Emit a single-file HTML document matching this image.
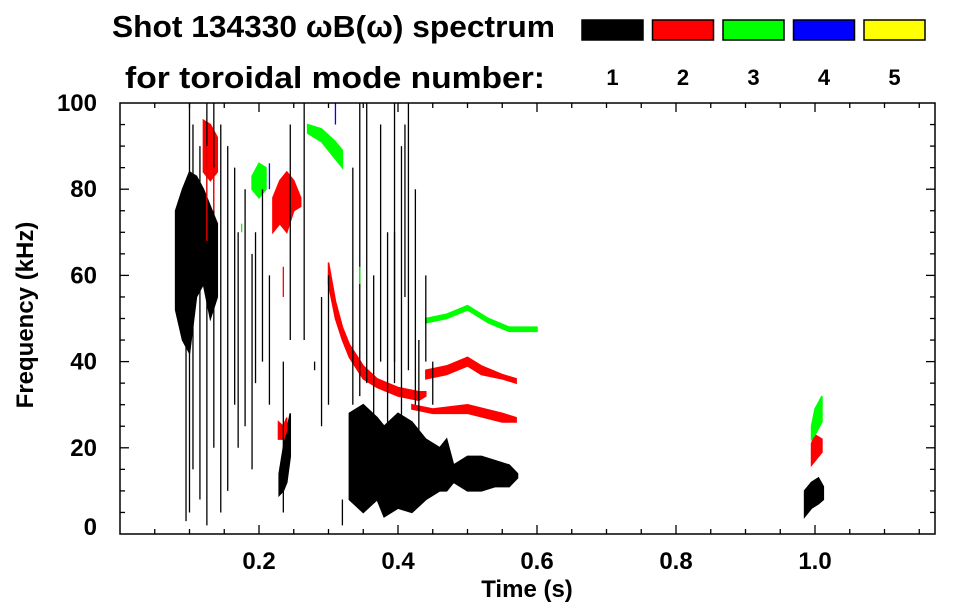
<!DOCTYPE html>
<html><head><meta charset="utf-8"><style>
body{margin:0;background:#fff}
svg{display:block;font-family:"Liberation Sans",Arial,sans-serif;font-weight:bold}
</style></head><body>
<svg id="chart" width="963" height="615" viewBox="0 0 963 615" xmlns="http://www.w3.org/2000/svg">
<text x="112" y="37" font-size="31" textLength="443" lengthAdjust="spacingAndGlyphs">Shot 134330 ωB(ω) spectrum</text>
<text x="125" y="88" font-size="31" textLength="420" lengthAdjust="spacingAndGlyphs">for toroidal mode number:</text>
<g id="legend"></g>
<g id="marks"></g>
<g id="axes"></g>
<text x="527" y="597" font-size="24" text-anchor="middle">Time (s)</text>
<text transform="translate(33,315) rotate(-90)" font-size="24" text-anchor="middle">Frequency (kHz)</text>
</svg>
<script>
const modeColors=['#000','#f00','#0f0','#00f','#ff0'];
const modeLabels=['1','2','3','4','5'];
const xTicks=[0.2,0.4,0.6,0.8,1.0];
const xTickLabels=['0.2','0.4','0.6','0.8','1.0'];
const yTicks=[0,20,40,60,80,100];
const yTickLabels=['0','20','40','60','80','100'];
const patchMode=[0,0,0,0,1,1,1,1,1,1,2,2,2,2,1];
const patchTimes=[
 [0.08,0.09,0.10,0.11,0.12,0.13,0.14],
 [0.229,0.235,0.24,0.245],
 [0.33,0.35,0.37,0.38,0.40,0.42,0.44,0.46,0.47,0.48,0.50,0.52,0.54,0.56,0.572],
 [0.985,0.995,1.005,1.012],
 [0.30,0.31,0.32,0.33,0.35,0.37,0.40,0.43,0.44],
 [0.44,0.47,0.50,0.52,0.55,0.57],
 [0.42,0.45,0.50,0.55,0.57],
 [0.22,0.23,0.24,0.25,0.26],
 [0.12,0.13,0.14],
 [0.995,1.0,1.01],
 [0.44,0.47,0.50,0.53,0.56,0.60],
 [0.27,0.29,0.31,0.32],
 [0.995,1.0,1.01],
 [0.19,0.20,0.21],
 [0.228,0.235,0.24]
];
const patchLow=[
 [52,45,42,55,58,50,55],[9,10,12,18],[8,5,8,4,6,5,8,10,10,12,10,10,11,11,13],[4,6,7,8],
 [58,50,45,41,36,34,32,31,32],[36,37,39,37,36,35],[29,28,28,26,26],[70,72,70,75,76],[84,82,84],[16,17,19],
 [49,50,52,49,47,47],[93,91,87,85],[22,23,26],[80,78,80],[22,22,24]
];
const patchHigh=[
 [75,80,84,83,80,76,72],[14,20,24,28],[28,30,27,25,28,26,22,20,22,16,18,18,17,16,14],[10,12,13,11],
 [63,54,48,44,39,36,34,33,33],[38,39,41,39,37,36],[30,29,30,28,27],[78,82,84,82,78],[96,95,92],[21,23,22],
 [50,51,53,50,48,48],[95,94,91,89],[25,29,32],[83,86,85],[26,25,27]
];
const streakMode=[0,0,0,0,0,0,0,0,0,0,0,0,0,0,0,0,0,0,0,0,0,0,0,0,0,0,0,0,0,0,0,0,0,0,1,1,2,3,3,0,0,0,1,2];
const streakTime=[0.095,0.10,0.105,0.115,0.125,0.135,0.145,0.155,0.165,0.17,0.18,0.19,0.195,0.205,0.215,0.235,0.245,0.265,0.29,0.30,0.32,0.335,0.345,0.355,0.365,0.375,0.385,0.395,0.405,0.415,0.425,0.43,0.44,0.45,0.125,0.135,0.175,0.215,0.31,0.28,0.395,0.41,0.235,0.345];
const streakLow=[3,5,15,8,2,20,5,10,30,20,25,15,35,40,30,5,45,45,25,30,2,30,32,35,25,40,10,35,20,38,30,15,40,30,68,75,70,80,95,38,40,55,55,58];
const streakHigh=[70,100,95,90,100,100,95,90,85,70,80,65,70,80,60,40,95,100,55,60,8,85,100,100,60,95,70,100,90,100,80,45,60,40,90,85,72,86,100,40,70,95,62,62];

const X0=120,PX=695,Y0=534,PY=4.31;
const xs=t=>X0+t*PX, ys=f=>Y0-f*PY;
const NS='http://www.w3.org/2000/svg';
function mk(tag,attrs,parent){const e=document.createElementNS(NS,tag);for(const k in attrs)e.setAttribute(k,attrs[k]);parent.appendChild(e);return e;}
const leg=document.getElementById('legend'),marks=document.getElementById('marks'),axes=document.getElementById('axes');
modeColors.forEach((c,i)=>{
 const r=mk('rect',{x:582+i*70.5,y:20,width:61,height:20,fill:c,stroke:'#000','stroke-width':1.5},leg);
 
 
 const t=mk('text',{x:612.5+i*70.5,y:85,'font-size':22,'text-anchor':'middle'},leg);t.textContent=modeLabels[i];
 
 
});
patchTimes.forEach((ts,i)=>{
 const pts=ts.map((t,j)=>xs(t)+','+ys(patchHigh[i][j])).concat(ts.map((t,j)=>xs(t)+','+ys(patchLow[i][j])).reverse());
 const p=mk('polygon',{points:pts.join(' '),fill:modeColors[patchMode[i]],stroke:modeColors[patchMode[i]],'stroke-width':1.5},marks);
 
 
});
streakTime.forEach((t,i)=>{
 const l=mk('line',{x1:xs(t),x2:xs(t),y1:ys(streakLow[i]),y2:ys(streakHigh[i]),stroke:modeColors[streakMode[i]],'stroke-width':1.3},marks);
 
 
});
const fr=mk('rect',{x:X0,y:ys(100),width:935-X0,height:Y0-ys(100),fill:'none',stroke:'#000','stroke-width':1.5},axes);


for(let k=1;k*0.05<1.18;k++){const t=k*0.05,major=k%4===0,len=major?9:5;
 mk('line',{x1:xs(t),x2:xs(t),y1:Y0,y2:Y0-len,stroke:'#000','stroke-width':1.3},axes);
 mk('line',{x1:xs(t),x2:xs(t),y1:ys(100),y2:ys(100)+len,stroke:'#000','stroke-width':1.3},axes);}
for(let k=1;k<20;k++){const f=k*5,len=k%4===0?9:5;
 mk('line',{x1:X0,x2:X0+len,y1:ys(f),y2:ys(f),stroke:'#000','stroke-width':1.3},axes);
 mk('line',{x1:935,x2:935-len,y1:ys(f),y2:ys(f),stroke:'#000','stroke-width':1.3},axes);}
xTicks.forEach((t,i)=>{const e=mk('text',{x:xs(t),y:569,'font-size':24,'text-anchor':'middle'},axes);e.textContent=xTickLabels[i];
 
 });
yTicks.forEach((f,i)=>{const y=Math.min(ys(f),527);const e=mk('text',{x:97,y:y+8,'font-size':24,'text-anchor':'end'},axes);e.textContent=yTickLabels[i];
 
 });
</script>
</body></html>
